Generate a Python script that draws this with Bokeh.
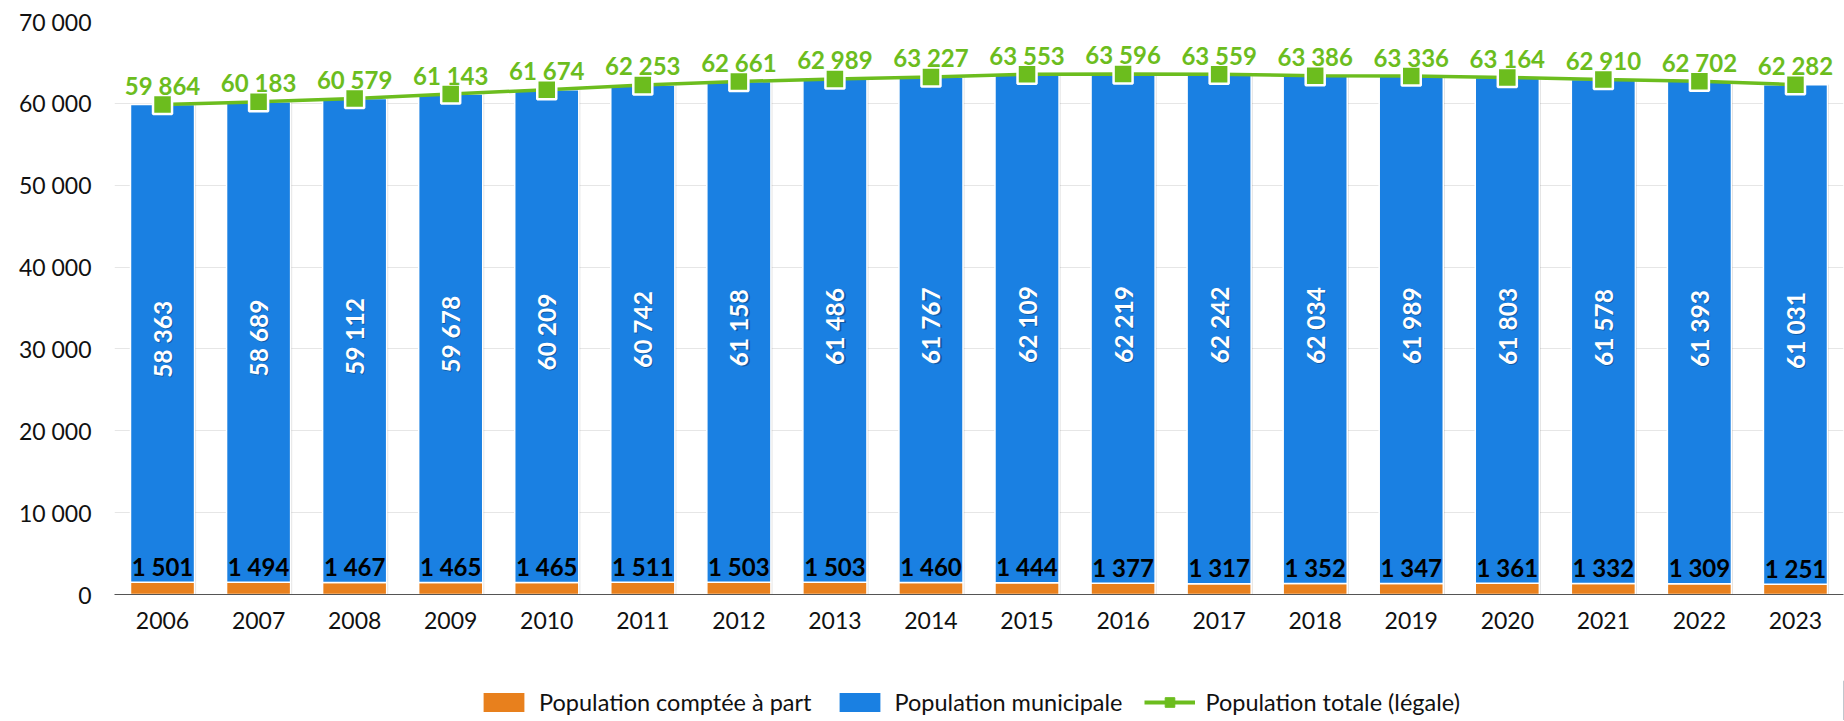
import math
from bokeh.plotting import figure
from bokeh.layouts import column
from bokeh.models import (ColumnDataSource, FactorRange, Range1d, Legend,
                          LegendItem, FixedTicker)
from bokeh.transform import dodge
from bokeh.core.properties import value
from bokeh.embed import file_html
from bokeh.resources import INLINE

years = ["2006", "2007", "2008", "2009", "2010", "2011", "2012", "2013", "2014",
         "2015", "2016", "2017", "2018", "2019", "2020", "2021", "2022", "2023"]
pop_apart = [1501, 1494, 1467, 1465, 1465, 1511, 1503, 1503, 1460,
             1444, 1377, 1317, 1352, 1347, 1361, 1332, 1309, 1251]
pop_municipale = [58363, 58689, 59112, 59678, 60209, 60742, 61158, 61486, 61767,
                  62109, 62219, 62242, 62034, 61989, 61803, 61578, 61393, 61031]
pop_totale = [59864, 60183, 60579, 61143, 61674, 62253, 62661, 62989, 63227,
              63553, 63596, 63559, 63386, 63336, 63164, 62910, 62702, 62282]
y_ticks = [0, 10000, 20000, 30000, 40000, 50000, 60000, 70000]
series_names = ["Population comptée à part", "Population municipale",
                "Population totale (légale)"]


def fmt(v):
    return f"{v:,}".replace(",", " ")


ORANGE = "#e8801d"
BLUE = "#1a80e2"
GREEN = "#6cbd1e"
FONT = "Lato"

src = ColumnDataSource(dict(
    year=years,
    apart=pop_apart,
    mun_top=[a + m for a, m in zip(pop_apart, pop_municipale)],
    mid=[a + m / 2 for a, m in zip(pop_apart, pop_municipale)],
    total=pop_totale,
    apart_lbl=[fmt(v) for v in pop_apart],
    mun_lbl=[fmt(v) for v in pop_municipale],
    tot_lbl=[fmt(v) for v in pop_totale],
))

p = figure(x_range=FactorRange(*years), y_range=Range1d(0, 70000),
           width=1844, height=680, output_backend="svg", toolbar_location=None,
           min_border_left=114, min_border_right=1, min_border_top=21,
           min_border_bottom=86)
p.outline_line_color = None
p.background_fill_color = "white"
p.xgrid.grid_line_color = None
p.ygrid.grid_line_color = "#e6e6e6"
p.ygrid.grid_line_width = 1

p.yaxis.ticker = FixedTicker(ticks=y_ticks)
p.yaxis.major_label_overrides = {v: fmt(v) for v in y_ticks}
p.yaxis.axis_line_color = None
p.yaxis.major_tick_line_color = None
p.yaxis.minor_tick_line_color = None
p.yaxis.major_label_standoff = 17
p.yaxis.major_label_text_font = FONT
p.yaxis.major_label_text_font_size = "23px"
p.yaxis.major_label_text_color = "#111111"

p.xaxis.axis_line_color = "#555555"
p.xaxis.axis_line_width = 1.2
p.xaxis.major_tick_line_color = None
p.xaxis.minor_tick_line_color = None
p.xaxis.major_label_standoff = 11
p.xaxis.major_label_text_font = FONT
p.xaxis.major_label_text_font_size = "23px"
p.xaxis.major_label_text_color = "#111111"

W = 0.667
# shadow
p.vbar(x=dodge("year", 0.016, range=p.x_range), width=W, bottom=0, top="total",
       source=src, fill_color="black", fill_alpha=0.13, line_color=None)
p.vbar(x="year", width=W, bottom=0, top="apart", source=src,
       fill_color=ORANGE, line_color="white", line_width=1.5)
p.vbar(x="year", width=W, bottom="apart", top="mun_top", source=src,
       fill_color=BLUE, line_color="white", line_width=1.5)

p.line(x="year", y="total", source=src, line_color=GREEN, line_width=3.5)
p.scatter(x="year", y="total", source=src, marker="square", size=19,
          fill_color=GREEN, line_color="white", line_width=2.5)

# labels: municipale (rotated)
p.text(x=dodge("year", 0.012, range=p.x_range), y="mid", text="mun_lbl", source=src,
       angle=math.pi / 2, text_align="center", text_baseline="middle",
       y_offset=-3, text_font=value(FONT), text_font_size="24.5px",
       text_font_style="bold", text_color="#0a3a70", text_alpha=0.55)
p.text(x="year", y="mid", text="mun_lbl", source=src, angle=math.pi / 2,
       text_align="center", text_baseline="middle", y_offset=-4,
       text_font=value(FONT), text_font_size="24.5px", text_font_style="bold",
       text_color="white")

# labels: comptée à part
p.text(x="year", y="apart", text="apart_lbl", source=src, text_align="center",
       text_baseline="alphabetic", y_offset=-16, text_font=value(FONT),
       text_font_size="24px", text_font_style="bold", text_color="#000000")

# labels: totale
p.text(x="year", y="total", text="tot_lbl", source=src, text_align="center",
       text_baseline="alphabetic", y_offset=-19, text_font=value(FONT),
       text_font_size="24px", text_font_style="bold", text_color=GREEN)

# ---- legend strip (separate small figure below the chart) ----
lg = figure(width=1844, height=40, x_range=Range1d(0, 1), y_range=Range1d(0, 1),
            output_backend="svg", toolbar_location=None, min_border=0,
            x_axis_location=None, y_axis_location=None)
lg.outline_line_color = None
lg.grid.visible = False
# one hidden sample row (outside the visible range) so legend swatches render
d_src = ColumnDataSource(dict(x=[5], y=[5], top=[5]))
l_or = lg.vbar(x="x", top="top", width=0.1, source=d_src, fill_color=ORANGE,
               line_color=None)
l_bl = lg.vbar(x="x", top="top", width=0.1, source=d_src, fill_color=BLUE,
               line_color=None)
l_ln = lg.line(x="x", y="y", source=d_src, line_color=GREEN, line_width=4)
l_sc = lg.scatter(x="x", y="y", source=d_src, marker="square", size=19,
                  fill_color=GREEN, line_color=GREEN)

legend = Legend(items=[
    LegendItem(label=series_names[0], renderers=[l_or]),
    LegendItem(label=series_names[1], renderers=[l_bl]),
    LegendItem(label=series_names[2], renderers=[l_ln, l_sc]),
], orientation="horizontal", location=(364, 4), padding=0, spacing=22,
    glyph_width=51, glyph_height=24, label_standoff=10, border_line_color=None,
    background_fill_alpha=0, label_text_font=FONT, label_text_font_size="23.5px",
    label_text_color="#111111", margin=0)
lg.add_layout(legend)

open("out.html", "w").write(file_html(column(p, lg), INLINE))
